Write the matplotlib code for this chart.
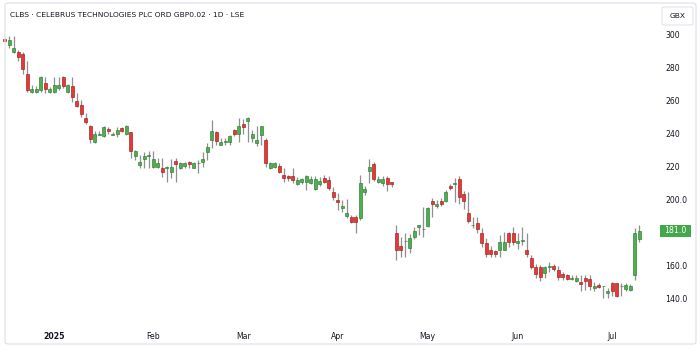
import matplotlib
matplotlib.use("Agg")
import matplotlib.pyplot as plt
from matplotlib.patches import FancyBboxPatch, Rectangle
import numpy as np

# daily candles, Dec 2024 -> Jul 2025 (GBX)
opens = [297.6, 293.7, 289.5, 289.7, 288.4, 276.3, 265.5, 265.6, 266.6, 270.6,
         265.5, 265.5, 268.0, 274.7, 265.2, 269.2, 259.9, 257.4, 249.5, 244.7,
         234.8, 239.4, 238.6, 243.0, 239.4, 239.6, 243.5, 239.6, 241.0, 226.4,
         221.0, 224.4, 226.5, 219.8, 219.6, 219.3, 219.2, 216.9, 223.6, 219.3,
         220.2, 223.0, 219.3, 221.9, 223.0, 229.0, 236.0, 241.2, 233.1, 234.9,
         234.8, 242.4, 239.8, 246.1, 247.9, 237.2, 234.3, 239.2, 236.2, 219.3,
         219.6, 220.4, 214.9, 214.3, 214.3, 209.4, 210.5, 210.5, 210.2, 206.4,
         209.4, 212.9, 211.9, 204.7, 199.7, 194.6, 190.2, 189.5, 189.5, 188.6,
         204.6, 217.5, 221.6, 210.8, 209.8, 212.9, 210.8, 179.4, 171.9, 174.6,
         170.3, 177.4, 183.3, 181.8, 183.9, 199.3, 196.0, 199.3, 199.1, 208.5,
         209.5, 212.5, 203.2, 192.0, 184.4, 185.9, 179.4, 173.4, 169.3, 168.8,
         169.3, 169.3, 179.4, 179.4, 173.4, 174.7, 169.3, 164.3, 159.2, 159.2,
         155.1, 159.1, 159.6, 157.4, 154.7, 154.0, 151.5, 150.6, 149.9, 152.1,
         151.5, 146.2, 148.0, 147.3, 143.0, 149.1, 149.5, 147.3, 145.8, 145.0,
         154.0, 176.0]
highs = [298.2, 299.6, 299.4, 290.9, 289.8, 284.4, 269.6, 269.0, 275.0, 274.3,
         268.5, 274.3, 274.3, 274.9, 270.0, 274.7, 264.6, 260.5, 252.8, 245.3,
         241.5, 241.5, 244.7, 244.3, 241.0, 244.3, 244.0, 245.0, 241.3, 230.0,
         227.0, 229.0, 229.5, 229.5, 225.0, 225.0, 220.5, 224.4, 225.0, 222.5,
         223.0, 223.5, 223.0, 224.0, 228.7, 234.2, 248.3, 241.5, 237.5, 237.5,
         239.0, 243.0, 249.4, 249.0, 250.0, 242.0, 244.7, 244.7, 237.5, 222.5,
         222.5, 222.0, 219.0, 215.0, 219.0, 213.5, 213.0, 214.9, 214.3, 214.3,
         213.5, 214.9, 214.3, 207.5, 204.2, 199.7, 200.4, 190.6, 190.6, 214.9,
         208.0, 224.4, 223.0, 214.3, 214.3, 214.3, 210.8, 184.5, 177.0, 179.4,
         179.2, 183.0, 184.5, 195.6, 195.6, 200.7, 199.5, 200.7, 206.0, 209.5,
         212.9, 214.3, 205.0, 204.7, 189.5, 189.5, 182.5, 176.5, 171.5, 169.5,
         178.5, 180.5, 180.5, 183.0, 179.4, 183.0, 179.4, 166.5, 161.0, 160.0,
         159.6, 162.0, 160.5, 159.5, 156.0, 155.0, 154.0, 154.0, 154.0, 154.0,
         154.0, 150.0, 149.0, 147.6, 146.0, 150.0, 149.5, 149.5, 149.0, 148.5,
         182.5, 184.5]
lows = [296.0, 291.9, 288.9, 284.4, 276.1, 265.5, 264.6, 264.6, 265.5, 264.6,
        265.0, 264.6, 266.6, 268.0, 265.0, 259.5, 256.0, 250.0, 245.9, 234.2,
        234.2, 239.0, 238.0, 240.0, 239.0, 238.0, 241.0, 239.0, 225.0, 224.0,
        219.0, 219.3, 219.3, 219.0, 219.0, 213.9, 210.8, 213.0, 210.5, 218.5,
        219.0, 219.0, 219.0, 215.9, 220.0, 224.0, 231.5, 233.0, 232.9, 233.0,
        233.0, 238.5, 235.1, 240.0, 235.0, 235.0, 232.7, 233.0, 220.0, 218.5,
        219.0, 216.0, 210.8, 211.5, 210.0, 209.0, 209.5, 205.8, 209.4, 205.8,
        208.4, 210.0, 205.8, 199.7, 193.6, 192.6, 189.0, 185.7, 179.8, 187.5,
        203.0, 209.8, 211.0, 210.0, 208.4, 205.0, 207.5, 163.2, 165.0, 165.2,
        167.4, 176.0, 178.5, 177.4, 183.0, 189.5, 195.0, 196.0, 198.5, 206.0,
        198.3, 197.0, 194.0, 185.5, 182.5, 179.5, 171.0, 165.0, 165.0, 165.0,
        165.0, 169.0, 171.0, 172.5, 170.0, 172.5, 165.0, 157.8, 152.0, 150.5,
        152.0, 156.0, 156.5, 151.0, 151.0, 151.0, 151.0, 150.0, 144.6, 145.0,
        145.0, 144.4, 146.0, 140.0, 140.0, 141.4, 141.0, 141.4, 144.5, 144.5,
        151.0, 174.0]
closes = [296.4, 296.8, 291.9, 286.8, 279.3, 266.6, 267.2, 267.0, 274.7, 267.2,
          267.2, 269.6, 269.6, 269.2, 269.6, 262.1, 256.8, 252.0, 246.9, 237.0,
          239.6, 239.8, 244.3, 241.8, 239.8, 242.2, 241.8, 244.7, 229.3, 229.3,
          222.6, 226.6, 226.8, 224.6, 222.0, 216.9, 219.4, 219.6, 221.8, 222.0,
          222.0, 221.8, 222.0, 222.1, 224.8, 232.1, 241.8, 235.7, 235.0, 235.1,
          238.4, 239.6, 244.7, 244.3, 249.4, 239.6, 236.4, 244.7, 222.0, 222.0,
          222.0, 216.9, 212.9, 212.9, 211.9, 211.9, 212.3, 214.3, 212.3, 212.3,
          211.1, 210.8, 206.8, 201.7, 198.5, 196.0, 192.0, 186.5, 186.5, 209.8,
          206.2, 219.6, 212.3, 212.3, 212.3, 209.4, 209.4, 169.3, 169.3, 175.0,
          176.8, 180.8, 184.5, 182.1, 194.6, 197.1, 197.3, 197.1, 204.7, 206.8,
          209.7, 201.7, 199.3, 186.9, 184.6, 182.1, 173.4, 166.7, 166.7, 166.7,
          174.4, 174.4, 174.4, 174.4, 174.8, 174.9, 166.7, 159.2, 154.5, 152.8,
          159.2, 159.3, 157.8, 153.1, 152.7, 151.9, 152.5, 152.5, 148.6, 150.6,
          147.4, 147.4, 146.6, 147.5, 144.4, 144.4, 141.3, 147.5, 147.8, 147.4,
          179.4, 181.0]

month_labels = ["2025", "Feb", "Mar", "Apr", "May", "Jun", "Jul"]
month_idx = [11, 33, 53, 74, 94, 114, 135]
y_ticks = [140, 160, 200, 220, 240, 260, 280, 300]
y_tick_labels = ["140.0", "160.0", "200.0", "220", "240", "260", "280", "300"]
last_price = "181.0"
title = "CLBS · CELEBRUS TECHNOLOGIES PLC ORD GBP0.02 · 1D · LSE"

GREEN = "#4caf50"
GREEN_EDGE = "#2e7d32"
RED = "#e53935"
RED_EDGE = "#a31c1c"
WICK = "#8f8f8f"
TEXT = "#131722"

W, H = 700, 353
fig = plt.figure(figsize=(W / 100, H / 100), dpi=100)
fig.patch.set_facecolor("white")

# plot area in pixels: x 0..655, y 28..318 (from top)
ax = fig.add_axes([0.0, 1 - 318 / H, 655 / W, (318 - 28) / H])
ax.set_facecolor("white")

o = np.array(opens)
h = np.array(highs)
l = np.array(lows)
c = np.array(closes)
x = np.arange(len(o))
up = c >= o

ax.vlines(x, l, h, color=WICK, linewidth=0.9, zorder=1)
body_bottom = np.minimum(o, c)
body_h = np.maximum(np.abs(c - o), 0.4)
ax.bar(x[up], body_h[up], bottom=body_bottom[up], width=0.7,
       color=GREEN, edgecolor=GREEN_EDGE, linewidth=0.45, zorder=2)
ax.bar(x[~up], body_h[~up], bottom=body_bottom[~up], width=0.7,
       color=RED, edgecolor=RED_EDGE, linewidth=0.45, zorder=2)

# pixel mapping: value 300 at y=35, 1.645 px per unit
ax.set_ylim(300 - (318 - 35) / 1.645, 300 + (35 - 28) / 1.645)
ax.set_xlim(-1.07, (655 - 4.8) / 4.5)

for s in ax.spines.values():
    s.set_visible(False)

ax.yaxis.tick_right()
ax.set_yticks(y_ticks)
ax.set_yticklabels(y_tick_labels, fontsize=5.6, color=TEXT)
ax.tick_params(axis="y", length=0, pad=7.5)
for lab in ax.get_yticklabels():
    lab.set_horizontalalignment("left")

ax.set_xticks(month_idx)
ax.set_xticklabels(month_labels, fontsize=5.6, color=TEXT)
ax.tick_params(axis="x", length=0, pad=10)
ax.get_xticklabels()[0].set_fontweight("bold")

# outer frame
fig.patches.append(FancyBboxPatch((5 / W, 1 - 344 / H), 691 / W, 341 / H,
                                  boxstyle="round,pad=0,rounding_size=0.006",
                                  transform=fig.transFigure, fill=False,
                                  edgecolor="#e0e3eb", linewidth=0.9))

fig.text(10 / W, 1 - 15 / H, title, fontsize=5.4, color=TEXT,
         ha="left", va="center")

# currency box
fig.patches.append(FancyBboxPatch((662 / W, 1 - 25 / H), 31 / W, 18 / H,
                                  boxstyle="round,pad=0,rounding_size=0.004",
                                  transform=fig.transFigure, facecolor="white",
                                  edgecolor="#e0e3eb", linewidth=0.8))
fig.text(677.5 / W, 1 - 16 / H, "GBX", fontsize=5.4, color=TEXT,
         ha="center", va="center")

# last price badge
yb = 35 + (300 - float(last_price)) * 1.645
fig.patches.append(Rectangle((660 / W, 1 - (yb + 6) / H), 31 / W, 12 / H,
                             transform=fig.transFigure, facecolor="#43a84a",
                             edgecolor="none"))
fig.text(675.5 / W, 1 - yb / H, last_price, fontsize=5.6, color="white",
         ha="center", va="center")

fig.savefig("out.png", dpi=100, facecolor="white")
